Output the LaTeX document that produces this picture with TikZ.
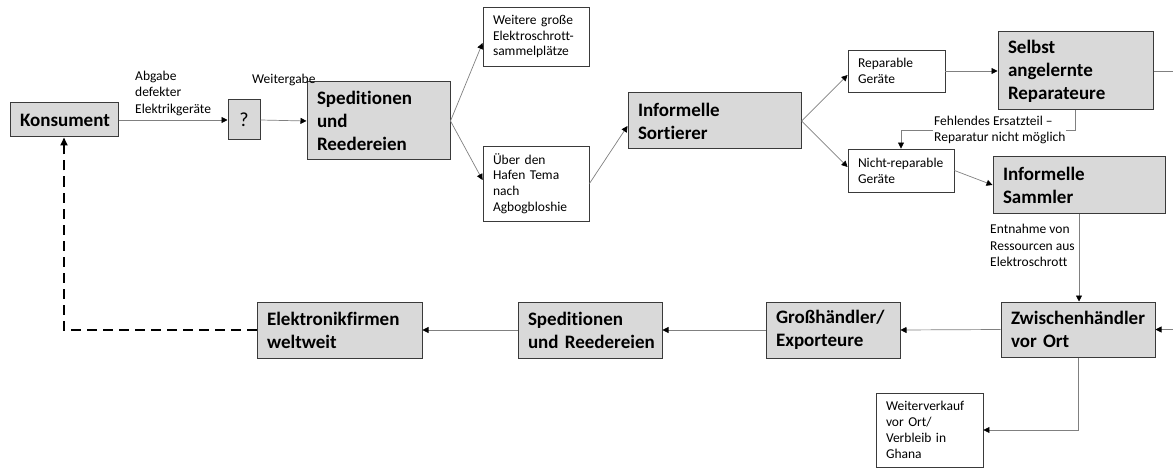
\documentclass[tikz,border=0pt]{standalone}
\usepackage{fontspec}
\setmainfont{Carlito}[Ligatures=NoCommon]
\usetikzlibrary{arrows.meta}
\definecolor{boxfill}{HTML}{D9D9D9}
\definecolor{boxline}{HTML}{3A3A3A}
\definecolor{conncol}{HTML}{808080}
\tikzset{
  gbox/.style={draw=boxline, line width=1pt, fill=boxfill, inner xsep=10pt, inner ysep=0pt, align=left,
    font=\fontsize{19}{23}\selectfont\bfseries},
  wbox/.style={draw=boxline, line width=0.9pt, fill=white, inner xsep=10pt, inner ysep=0pt, align=left,
    font=\fontsize{13.5}{15.8}\selectfont},
  lbl/.style={inner sep=0pt, align=left, anchor=west, font=\fontsize{13.5}{16.5}\selectfont},
  conn/.style={draw=conncol, line width=0.7pt, -{Triangle[length=6pt,width=6pt,color=black]}},
  plainline/.style={draw=conncol, line width=0.7pt},
  dashline/.style={draw=black, line width=1.8pt, dash pattern=on 10pt off 6pt, -{Triangle[length=8pt,width=7pt]}}
}
\hyphenpenalty=10000
\exhyphenpenalty=10000
\newcommand{\mybox}[7]{%
  \pgfmathsetmacro{\bw}{#5-#3}%
  \pgfmathsetmacro{\bh}{#6-#4}%
  \pgfmathsetmacro{\tw}{#5-#3-20}%
  \pgfmathsetmacro{\cx}{(#3+#5)/2}%
  \pgfmathsetmacro{\cy}{(#4+#6)/2}%
  \node[#1, minimum width=\bw pt, minimum height=\bh pt, text width=\tw pt] (#2) at (\cx,\cy) {#7};%
}
\begin{document}
\begin{tikzpicture}[x=1pt,y=-1pt]
\useasboundingbox (0,0) rectangle (1173,468);

\mybox{gbox, align=center}{kons}{10}{103}{118}{137}{Konsument}
\mybox{gbox, align=center, font=\fontsize{20}{24}\selectfont}{q}{228}{100}{260}{140}{?}
\mybox{gbox}{sped1}{307}{82}{450}{160}{Speditionen\\und\\Reedereien}
\mybox{wbox}{weit}{483}{7}{589}{66}{Weitere große\\Elektroschrott-\\sammelplätze}
\mybox{wbox}{ueber}{483}{146}{589}{221}{Über den\\Hafen Tema\\nach\\Agbogbloshie}
\mybox{gbox}{sort}{628}{93}{801}{149}{Informelle\\Sortierer}
\mybox{wbox}{rep}{848}{50}{945}{92}{Reparable\\Geräte}
\mybox{wbox}{nrep}{848}{149}{954}{192}{Nicht-reparable\\Geräte}
\mybox{gbox}{selbst}{998}{32}{1153}{110}{Selbst\\angelernte\\Reparateure}
\mybox{gbox}{samm}{993}{157}{1165}{213}{Informelle\\Sammler}
\mybox{gbox}{zw}{1001}{302}{1155}{357}{Zwischenhändler\\vor Ort}
\mybox{gbox}{gross}{766}{302}{900}{358}{Großhändler/\\Exporteure}
\mybox{gbox}{sped2}{518}{302}{662}{358}{Speditionen\\\mbox{und Reedereien}}
\mybox{gbox}{elek}{257}{302}{422}{358}{Elektronikfirmen\\weltweit}
\mybox{wbox}{weiterv}{876}{393}{983}{467}{Weiterverkauf\\vor Ort/\\Verbleib in\\Ghana}

\coordinate (r1) at (1173,71);
\coordinate (r2) at (1173,329.5);
\coordinate (bend1) at (1075.5,130);

% connectors
\draw[conn] (kons.east) -- (q.west);
\draw[conn] (q.east) -- (sped1.west);
\draw[conn] (sped1.east) -- ([yshift=-6.5pt]weit.west);
\draw[conn] (sped1.east) -- ([yshift=3.5pt]ueber.west);
\draw[conn] (ueber.east) -- ([yshift=-5pt]sort.west);
\draw[conn] (sort.east) -- ([yshift=-4pt]rep.west);
\draw[conn] (sort.east) -- ([yshift=3.5pt]nrep.west);
\draw[conn] (rep.east) -- (selbst.west);
\draw[plainline] (selbst.east) -- (r1);
\draw[conn] (selbst.south) -- (bend1) -| (nrep.north);
\draw[conn] (nrep.east) -- (samm.west);
\draw[conn] (samm.south) -- (samm.south |- zw.north);
\draw[conn] (r2) -- (zw.east);
\draw[conn] (zw.west) -- (gross.east);
\draw[conn] (gross.west) -- (sped2.east);
\draw[conn] (sped2.west) -- (elek.east);
\draw[conn] (zw.south) |- (weiterv.east);
\draw[dashline] (elek.west) -| (kons.south);

% labels
\node[lbl] (l1) at (135,93) {Abgabe\\defekter\\Elektrikgeräte};
\node[lbl] (l2) at (252,80) {Weitergabe};
\node[lbl, fill=white, inner xsep=1pt, font=\fontsize{13.5}{15.8}\selectfont] (l3) at (933,130) {Fehlendes Ersatzteil –\\Reparatur nicht möglich};
\node[lbl] (l4) at (990,245.5) {Entnahme von\\Ressourcen aus\\Elektroschrott};
\end{tikzpicture}
\end{document}
